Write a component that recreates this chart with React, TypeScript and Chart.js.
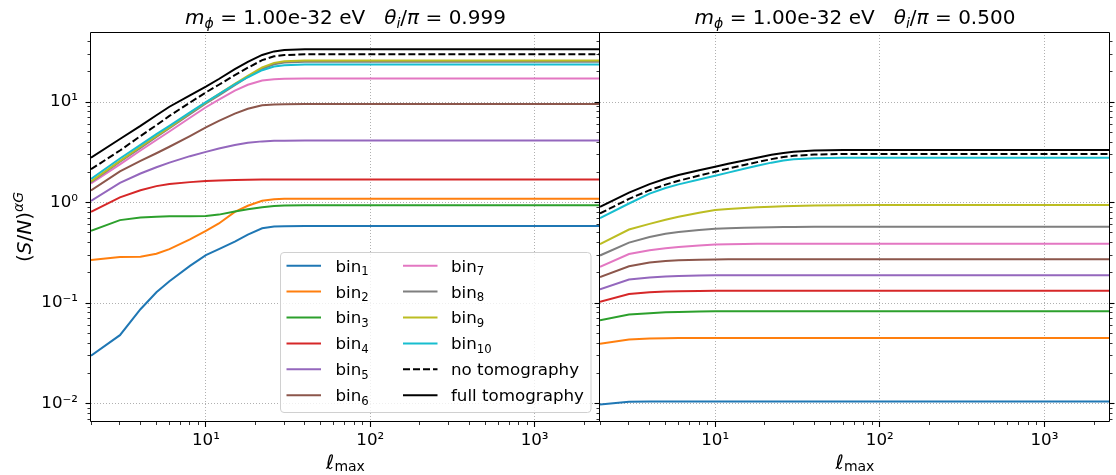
import React, { useEffect, useRef } from "react";
import { Chart, registerables } from "chart.js";

Chart.register(...registerables);

// ---------------- data ----------------
const ELL = [2, 3, 4, 5, 6, 8, 10, 12, 15, 18, 22, 26, 30, 40, 60, 100, 1000, 2500];

const SERIES_NAMES = ["1", "2", "3", "4", "5", "6", "7", "8", "9", "10", "no tomography", "full tomography"];
const SERIES_COLORS = ["#1f77b4", "#ff7f0e", "#2ca02c", "#d62728", "#9467bd", "#8c564b", "#e377c2", "#7f7f7f", "#bcbd22", "#17becf", "#000000", "#000000"];

// left panel: theta_i/pi = 0.999
const L_BIN1 = [0.030, 0.048, 0.087, 0.128, 0.165, 0.235, 0.300, 0.345, 0.410, 0.480, 0.555, 0.578, 0.583, 0.585, 0.585, 0.585, 0.585, 0.585];
const L_BIN2 = [0.268, 0.288, 0.290, 0.310, 0.345, 0.430, 0.525, 0.620, 0.810, 0.930, 1.045, 1.080, 1.090, 1.094, 1.094, 1.094, 1.094, 1.094];
const L_BIN3 = [0.525, 0.670, 0.710, 0.725, 0.730, 0.733, 0.737, 0.760, 0.815, 0.860, 0.900, 0.925, 0.935, 0.940, 0.940, 0.940, 0.940, 0.940];
const L_BIN4 = [0.810, 1.130, 1.330, 1.460, 1.530, 1.600, 1.640, 1.660, 1.680, 1.690, 1.700, 1.700, 1.700, 1.700, 1.700, 1.700, 1.700, 1.700];
const L_BIN5 = [1.040, 1.570, 1.950, 2.250, 2.500, 2.900, 3.200, 3.450, 3.750, 3.950, 4.070, 4.120, 4.140, 4.150, 4.150, 4.150, 4.150, 4.150];
const L_BIN6 = [1.320, 2.050, 2.600, 3.100, 3.600, 4.600, 5.600, 6.500, 7.700, 8.600, 9.300, 9.500, 9.550, 9.600, 9.600, 9.600, 9.600, 9.600];
const L_BIN7 = [1.550, 2.400, 3.300, 4.200, 5.100, 7.000, 8.900, 10.60, 13.00, 14.90, 16.40, 16.90, 17.10, 17.20, 17.20, 17.20, 17.20, 17.20];
const L_BIN8 = [1.600, 2.550, 3.500, 4.500, 5.500, 7.600, 9.700, 11.70, 14.80, 17.80, 21.50, 23.80, 24.80, 25.20, 25.30, 25.30, 25.30, 25.30];
const L_BIN9 = [1.630, 2.600, 3.600, 4.600, 5.600, 7.800, 9.900, 12.00, 15.20, 18.30, 22.20, 24.60, 25.50, 25.90, 26.00, 26.00, 26.00, 26.00];
const L_BIN10 = [1.720, 2.750, 3.750, 4.800, 5.800, 7.900, 10.00, 12.00, 15.00, 17.70, 20.80, 22.60, 23.30, 23.70, 23.70, 23.70, 23.70, 23.70];
const L_NOTOMO = [2.150, 3.300, 4.600, 5.900, 7.300, 9.900, 12.50, 14.90, 18.60, 22.00, 26.20, 28.60, 29.40, 29.90, 29.90, 29.90, 29.90, 29.90];
const L_FULL = [2.800, 4.300, 5.800, 7.400, 9.000, 11.70, 14.30, 17.00, 21.30, 25.20, 29.50, 32.00, 33.00, 33.60, 33.70, 33.70, 33.70, 33.70];

// right panel: theta_i/pi = 0.500
const R_BIN1 = [0.0098, 0.01045, 0.0105, 0.0105, 0.0105, 0.0105, 0.0105, 0.0105, 0.0105, 0.0105, 0.0105, 0.0105, 0.0105, 0.0105, 0.0105, 0.0105, 0.0105, 0.0105];
const R_BIN2 = [0.0395, 0.0434, 0.0445, 0.0448, 0.0450, 0.0450, 0.0450, 0.0450, 0.0450, 0.0450, 0.0450, 0.0450, 0.0450, 0.0450, 0.0450, 0.0450, 0.0450, 0.0450];
const R_BIN3 = [0.0676, 0.0770, 0.0795, 0.0810, 0.0818, 0.0825, 0.0828, 0.0830, 0.0830, 0.0830, 0.0830, 0.0830, 0.0830, 0.0830, 0.0830, 0.0830, 0.0830, 0.0830];
const R_BIN4 = [0.103, 0.123, 0.128, 0.1305, 0.1315, 0.132, 0.1325, 0.1325, 0.1325, 0.1325, 0.1325, 0.1325, 0.1325, 0.1325, 0.1325, 0.1325, 0.1325, 0.1325];
const R_BIN5 = [0.137, 0.172, 0.180, 0.184, 0.186, 0.188, 0.189, 0.189, 0.189, 0.189, 0.189, 0.189, 0.189, 0.189, 0.189, 0.189, 0.189, 0.189];
const R_BIN6 = [0.182, 0.233, 0.253, 0.263, 0.267, 0.270, 0.272, 0.2725, 0.273, 0.273, 0.273, 0.273, 0.273, 0.273, 0.273, 0.273, 0.273, 0.273];
const R_BIN7 = [0.229, 0.308, 0.335, 0.352, 0.362, 0.375, 0.383, 0.386, 0.388, 0.389, 0.390, 0.390, 0.390, 0.390, 0.390, 0.390, 0.390, 0.390];
const R_BIN8 = [0.298, 0.400, 0.455, 0.490, 0.510, 0.535, 0.550, 0.557, 0.563, 0.567, 0.570, 0.572, 0.573, 0.574, 0.575, 0.575, 0.575, 0.575];
const R_BIN9 = [0.386, 0.540, 0.615, 0.675, 0.725, 0.795, 0.843, 0.865, 0.885, 0.898, 0.910, 0.920, 0.928, 0.937, 0.943, 0.945, 0.945, 0.945];
const R_BIN10 = [0.700, 0.980, 1.230, 1.400, 1.520, 1.700, 1.850, 1.990, 2.170, 2.330, 2.500, 2.620, 2.700, 2.760, 2.790, 2.790, 2.790, 2.790];
const R_NOTOMO = [0.780, 1.090, 1.330, 1.510, 1.650, 1.860, 2.030, 2.180, 2.370, 2.530, 2.710, 2.840, 2.920, 3.010, 3.050, 3.050, 3.050, 3.050];
const R_FULL = [0.910, 1.260, 1.530, 1.730, 1.880, 2.100, 2.280, 2.440, 2.630, 2.800, 2.990, 3.120, 3.210, 3.300, 3.340, 3.340, 3.340, 3.340];

const LEFT_SERIES = [L_BIN1, L_BIN2, L_BIN3, L_BIN4, L_BIN5, L_BIN6, L_BIN7, L_BIN8, L_BIN9, L_BIN10, L_NOTOMO, L_FULL];
const RIGHT_SERIES = [R_BIN1, R_BIN2, R_BIN3, R_BIN4, R_BIN5, R_BIN6, R_BIN7, R_BIN8, R_BIN9, R_BIN10, R_NOTOMO, R_FULL];

// axes
const X_MIN = 2;
const X_MAX = 2500;
const Y_MIN = 0.00656;
const Y_MAX = 49.9;
const X_MAJOR = [10, 100, 1000];
const X_LABELS = ["10¹", "10²", "10³"];
const Y_MAJOR = [0.01, 0.1, 1, 10];
const Y_LABELS = ["10⁻²", "10⁻¹", "10⁰", "10¹"];

const FONT = "'DejaVu Sans', sans-serif";
const FS = 16.7;
const LABEL_FS = 20;
const GRID = "#b0b0b0";

function minorValues(min: number, max: number): number[] {
  const out: number[] = [];
  for (let d = -4; d <= 4; d++) {
    for (let k = 1; k <= 9; k++) {
      const v = k * Math.pow(10, d);
      if (v >= min * 0.9999 && v <= max * 1.0001) out.push(v);
    }
  }
  return out;
}

function framePlugin(leftTicks: boolean, rightTicks: boolean) {
  return {
    id: "frameTicks",
    afterDraw(chart: any) {
      const { ctx, chartArea: a } = chart;
      const xs = chart.scales.x;
      const ys = chart.scales.y;
      ctx.save();
      ctx.strokeStyle = "#000";
      ctx.lineWidth = 1;
      ctx.setLineDash([]);
      ctx.beginPath();
      ctx.rect(a.left - 0.5, a.top + 0.5, a.right - a.left, a.bottom - a.top - 1);
      ctx.stroke();
      const isMajor = (v: number) => Math.abs(Math.log10(v) - Math.round(Math.log10(v))) < 1e-6;
      for (const v of minorValues(X_MIN, X_MAX)) {
        const p = Math.round(xs.getPixelForValue(v) - 0.5) + 0.5;
        const len = isMajor(v) ? 5 : 3;
        ctx.lineWidth = isMajor(v) ? 1.1 : 0.8;
        ctx.beginPath();
        ctx.moveTo(p, a.bottom);
        ctx.lineTo(p, a.bottom + len);
        ctx.stroke();
      }
      for (const v of minorValues(Y_MIN, Y_MAX)) {
        const p = Math.round(ys.getPixelForValue(v) - 0.5) + 0.5;
        const len = isMajor(v) ? 5 : 3;
        ctx.lineWidth = isMajor(v) ? 1.1 : 0.8;
        if (leftTicks) {
          ctx.beginPath();
          ctx.moveTo(a.left - 0.5, p);
          ctx.lineTo(a.left - 0.5 - len, p);
          ctx.stroke();
        }
        if (rightTicks) {
          ctx.beginPath();
          ctx.moveTo(a.right - 0.5, p);
          ctx.lineTo(a.right - 0.5 + len, p);
          ctx.stroke();
        }
      }
      ctx.restore();
    },
  };
}

function buildDatasets(series: number[][]) {
  return series.map((vals, i) => ({
    label: SERIES_NAMES[i],
    data: ELL.map((x, j) => ({ x, y: vals[j] })),
    borderColor: SERIES_COLORS[i],
    backgroundColor: SERIES_COLORS[i],
    borderWidth: 2,
    borderDash: i === 10 ? [7, 3] : [],
    pointRadius: 0,
    fill: false,
    tension: 0,
    order: series.length - 1 - i,
  }));
}

type PanelProps = {
  series: number[][];
  left: number;
  width: number;
  yAxisWidth: number;
  padRight: number;
  showYLabels: boolean;
  leftTicks: boolean;
  rightTicks: boolean;
};

function Panel(props: PanelProps) {
  const ref = useRef<HTMLCanvasElement | null>(null);
  useEffect(() => {
    if (!ref.current) return;
    const font = { family: FONT, size: FS };
    const chart = new Chart(ref.current, {
      type: "line",
      data: { datasets: buildDatasets(props.series) as any },
      options: {
        animation: false,
        responsive: false,
        devicePixelRatio: 1,
        layout: { padding: { top: 32, bottom: 0, left: 0, right: props.padRight } },
        plugins: {
          legend: { display: false },
          tooltip: { enabled: false },
          title: { display: false },
        },
        scales: {
          x: {
            type: "logarithmic",
            min: X_MIN,
            max: X_MAX,
            afterBuildTicks: (s: any) => {
              s.ticks = X_MAJOR.map((v) => ({ value: v }));
            },
            afterFit: (s: any) => {
              s.height = 53;
            },
            grid: { color: GRID, lineWidth: 1, drawTicks: false },
            border: { display: false, dash: [1, 2] },
            ticks: {
              callback: (v: any) => {
                const i = X_MAJOR.indexOf(Number(v));
                return i >= 0 ? X_LABELS[i] : "";
              },
              font,
              color: "#000",
              padding: 9,
              maxRotation: 0,
              autoSkip: false,
            },
          },
          y: {
            type: "logarithmic",
            min: Y_MIN,
            max: Y_MAX,
            afterBuildTicks: (s: any) => {
              s.ticks = Y_MAJOR.map((v) => ({ value: v }));
            },
            afterFit: (s: any) => {
              s.width = props.yAxisWidth;
            },
            grid: { color: GRID, lineWidth: 1, drawTicks: false },
            border: { display: false, dash: [1, 2] },
            ticks: {
              display: props.showYLabels,
              callback: (v: any) => {
                const i = Y_MAJOR.indexOf(Number(v));
                return i >= 0 ? Y_LABELS[i] : "";
              },
              font,
              color: "#000",
              padding: 13,
              autoSkip: false,
            },
          },
        },
      } as any,
      plugins: [framePlugin(props.leftTicks, props.rightTicks)],
    });
    return () => chart.destroy();
  }, []);
  return (
    <canvas
      ref={ref}
      width={props.width}
      height={475}
      style={{ position: "absolute", left: props.left, top: 0, width: props.width, height: 475 }}
    />
  );
}

const Sub = ({ children }: { children: React.ReactNode }) => (
  <span style={{ fontSize: "0.7em", position: "relative", top: "0.3em" }}>{children}</span>
);
const Sup = ({ children }: { children: React.ReactNode }) => (
  <span style={{ fontSize: "0.7em", position: "relative", top: "-0.55em" }}>{children}</span>
);

const TITLE_VALUES = ["0.999", "0.500"];
const PANEL_X = [
  [91, 600],
  [600, 1110],
];

const LEG_ROW0 = 265.7;
const LEG_DY = 25.9;

export default function App() {
  useEffect(() => {
    document.body.style.margin = "0";
  }, []);
  const textBase: React.CSSProperties = {
    position: "absolute",
    fontFamily: FONT,
    color: "#000",
    lineHeight: 1,
    whiteSpace: "nowrap",
  };
  return (
    <div style={{ position: "fixed", left: 0, top: 0, width: 1116, height: 475, background: "#fff", overflow: "hidden" }}>
      <Panel series={LEFT_SERIES} left={0} width={601} yAxisWidth={91} padRight={1} showYLabels={true} leftTicks={true} rightTicks={false} />
      <Panel series={RIGHT_SERIES} left={590} width={526} yAxisWidth={10} padRight={6} showYLabels={false} leftTicks={true} rightTicks={true} />

      {/* titles */}
      {PANEL_X.map(([l, r], k) => (
        <div key={"t" + k} style={{ ...textBase, left: l, width: r - l, top: 7.1, fontSize: 20, textAlign: "center" }}>
          <i>m</i>
          <Sub>
            <i>ϕ</i>
          </Sub>
          {" = 1.00e-32 eV\u00a0\u00a0\u00a0"}
          <i>θ</i>
          <Sub>
            <i>i</i>
          </Sub>
          /<i>π</i>
          {" = " + TITLE_VALUES[k]}
        </div>
      ))}

      {/* x labels */}
      {PANEL_X.map(([l, r], k) => (
        <div key={"x" + k} style={{ ...textBase, left: l, width: r - l, top: 469 - 16.9, fontSize: LABEL_FS, textAlign: "center" }}>
          ℓ
          <span style={{ fontSize: "0.7em", position: "relative", top: "0.15em" }}>max</span>
        </div>
      ))}

      {/* y label */}
      <div
        style={{
          ...textBase,
          left: 24,
          top: 227,
          fontSize: LABEL_FS,
          transform: "translate(-50%, -50%) rotate(-90deg)",
        }}
      >
        (<i>S</i>/<i>N</i>)
        <Sup>
          <i>αG</i>
        </Sup>
      </div>

      {/* legend */}
      <svg width={1116} height={475} style={{ position: "absolute", left: 0, top: 0, pointerEvents: "none" }}>
        <rect x={280.5} y={252.5} width={310.5} height={160} rx={3.5} ry={3.5} fill="#ffffff" fillOpacity={0.8} stroke="#d0d0d0" strokeWidth={1} />
        {SERIES_NAMES.map((_, i) => {
          const c = i < 6 ? 0 : 1;
          const y = LEG_ROW0 + LEG_DY * (i % 6);
          const x0 = c === 0 ? 286.5 : 403;
          return (
            <line
              key={"h" + i}
              x1={x0}
              x2={x0 + 34.5}
              y1={y}
              y2={y}
              stroke={SERIES_COLORS[i]}
              strokeWidth={2}
              strokeDasharray={i === 10 ? "7 3" : undefined}
            />
          );
        })}
      </svg>
      {SERIES_NAMES.map((name, i) => {
        const c = i < 6 ? 0 : 1;
        const y = LEG_ROW0 + LEG_DY * (i % 6);
        const x0 = c === 0 ? 335.5 : 451;
        return (
          <div key={"lt" + i} style={{ ...textBase, left: x0, top: y + 6 - 14.1, fontSize: FS }}>
            {i < 10 ? (
              <>
                bin<Sub>{name}</Sub>
              </>
            ) : (
              name
            )}
          </div>
        );
      })}
    </div>
  );
}
